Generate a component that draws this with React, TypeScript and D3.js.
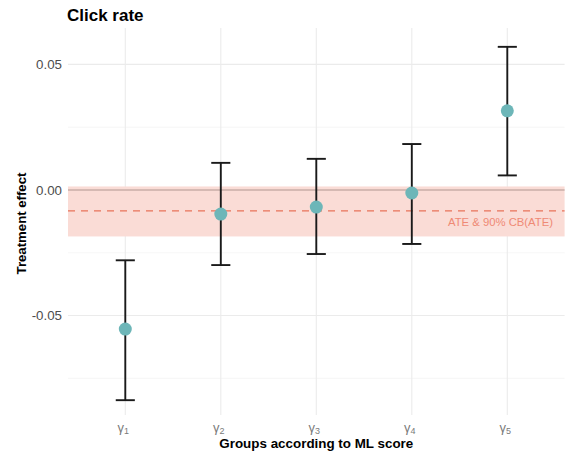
import React from "react";
import * as d3 from "d3";

const groups = ["1", "2", "3", "4", "5"];
const estimates = [-0.0554, -0.0096, -0.0068, -0.0012, 0.0315];
const lowers = [-0.0837, -0.0299, -0.0255, -0.0215, 0.0058];
const uppers = [-0.028, 0.0108, 0.0124, 0.0183, 0.057];
const ate = -0.0083;
const ateLower = -0.0185;
const ateUpper = 0.0014;
const yTicks = [-0.05, 0.0, 0.05];
const yMinor = [-0.075, -0.025, 0.025];

const W = 569;
const H = 458;
const left = 68;
const right = 564.6;
const top = 28;
const bottom = 415;

export default function App() {
  const x = d3.scalePoint<string>().domain(groups).range([left, right]).padding(0.6);
  const y = d3.scaleLinear().domain([-0.0896, 0.0645]).range([bottom, top]);
  const step = x.step();
  const capW = step * 0.2;
  const font = "Liberation Sans, Arial, sans-serif";

  return (
    <svg width={W} height={H} style={{ position: "absolute", left: 0, top: 0, background: "#fff" }}>
      {yMinor.map((t) => (
        <line key={"m" + t} x1={left} x2={right} y1={y(t)} y2={y(t)} stroke="#f0f0f0" strokeWidth={0.6} />
      ))}
      {yTicks.map((t) => (
        <line key={"g" + t} x1={left} x2={right} y1={y(t)} y2={y(t)} stroke="#ebebeb" strokeWidth={1.1} />
      ))}
      {groups.map((g) => (
        <line key={"v" + g} x1={x(g)} x2={x(g)} y1={top} y2={bottom} stroke="#ebebeb" strokeWidth={1.1} />
      ))}
      <rect x={left} width={right - left} y={y(ateUpper)} height={y(ateLower) - y(ateUpper)} fill="#fadcd6" />
      <line x1={left} x2={right} y1={y(0)} y2={y(0)} stroke="#b09690" strokeWidth={1.2} />
      <line x1={left} x2={right} y1={y(ate)} y2={y(ate)} stroke="#e8735a" strokeWidth={1.3} strokeDasharray="7,6" />
      <text x={553} y={y(ate) + 15} textAnchor="end" fontFamily={font} fontSize={11.3} fill="#ef8a75">
        ATE &amp; 90% CB(ATE)
      </text>
      {groups.map((g, i) => {
        const cx = x(g) as number;
        return (
          <g key={"e" + g}>
            <line x1={cx} x2={cx} y1={y(lowers[i])} y2={y(uppers[i])} stroke="#1a1a1a" strokeWidth={1.9} />
            <line x1={cx - capW / 2} x2={cx + capW / 2} y1={y(lowers[i])} y2={y(lowers[i])} stroke="#1a1a1a" strokeWidth={1.9} />
            <line x1={cx - capW / 2} x2={cx + capW / 2} y1={y(uppers[i])} y2={y(uppers[i])} stroke="#1a1a1a" strokeWidth={1.9} />
          </g>
        );
      })}
      {groups.map((g, i) => (
        <circle key={"p" + g} cx={x(g)} cy={y(estimates[i])} r={6.5} fill="#6db6b8" />
      ))}
      {yTicks.map((t) => (
        <text key={"yl" + t} x={62} y={y(t) + 4.8} textAnchor="end" fontFamily={font} fontSize={13.3} fill="#4d4d4d">
          {d3.format(".2f")(t).replace("−", "-")}
        </text>
      ))}
      {groups.map((g) => (
        <text key={"xl" + g} x={(x(g) as number) - 2} y={432} textAnchor="middle" fontFamily={font} fontSize={13} fill="#7a7a7a">
          γ<tspan fontSize={9} dy={2}>{g}</tspan>
        </text>
      ))}
      <text x={(left + right) / 2} y={448} textAnchor="middle" fontFamily={font} fontSize={13.4} fontWeight="bold" fill="#000">
        Groups according to ML score
      </text>
      <text transform={`translate(26,${(top + bottom) / 2 + 2}) rotate(-90)`} textAnchor="middle" fontFamily={font} fontSize={13.2} fontWeight="bold" fill="#000">
        Treatment effect
      </text>
      <text x={67} y={21} fontFamily={font} fontSize={17} fontWeight="bold" fill="#000">
        Click rate
      </text>
    </svg>
  );
}
